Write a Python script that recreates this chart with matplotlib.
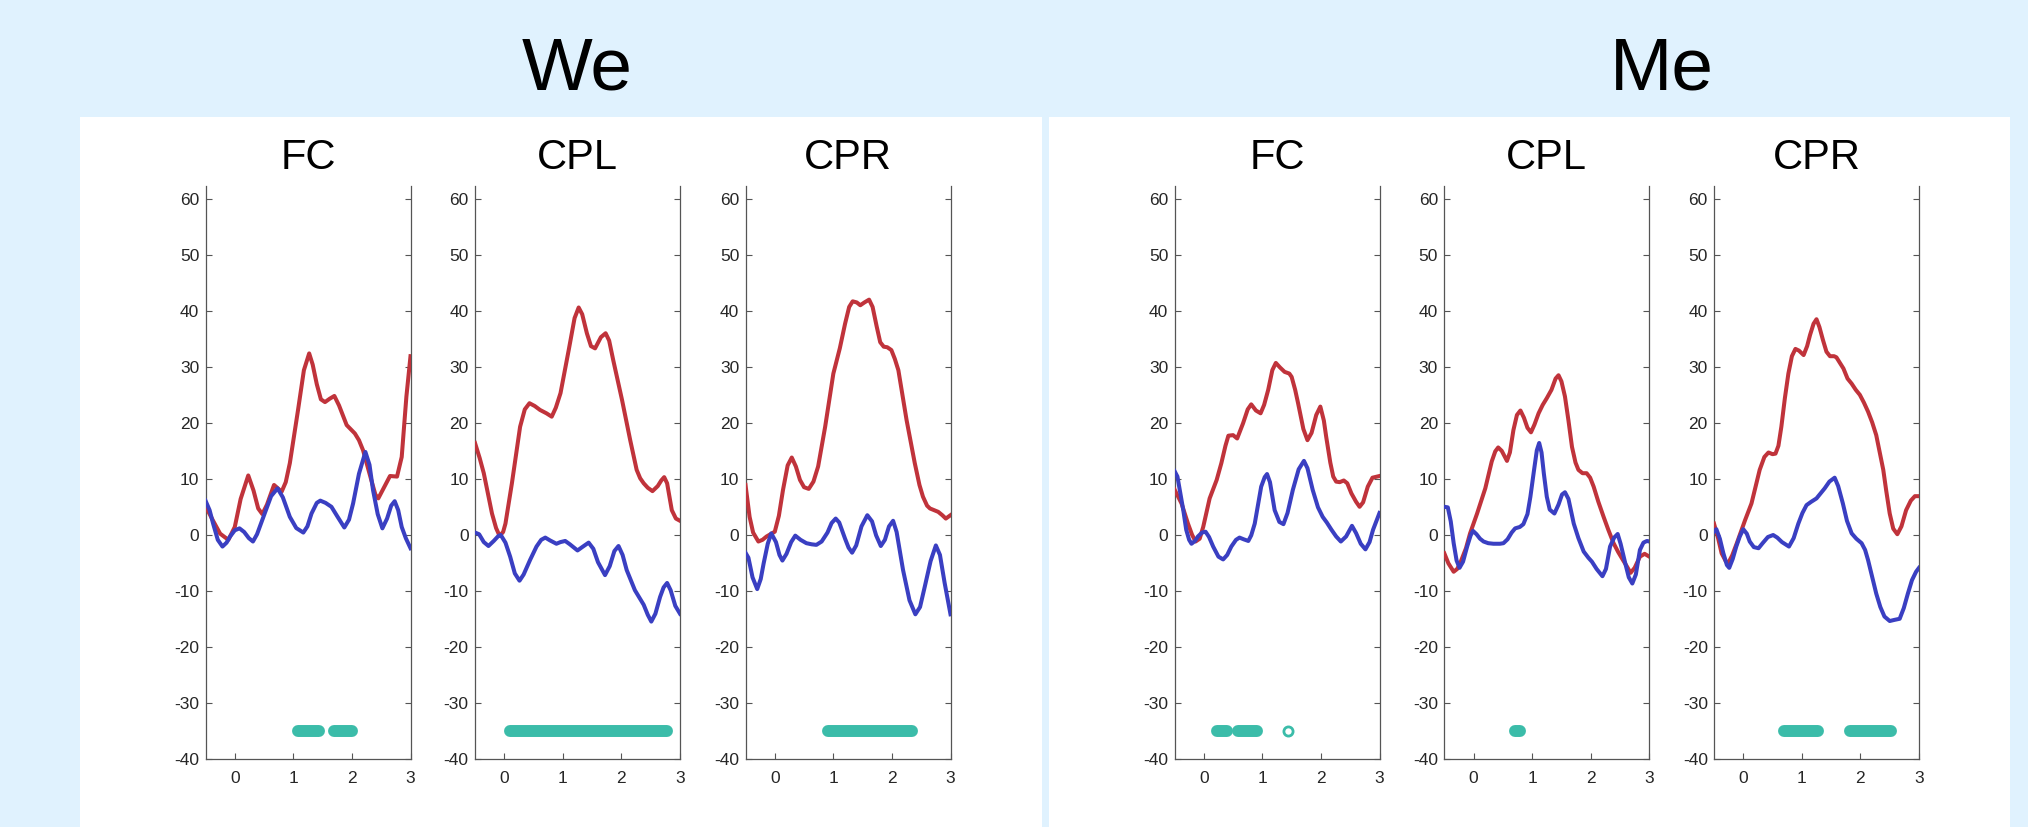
import matplotlib
matplotlib.use('Agg')
import matplotlib.pyplot as plt
from matplotlib.patches import Rectangle
import numpy as np

plt.rcParams['font.family'] = ['Liberation Sans', 'DejaVu Sans']
plt.rcParams['axes.unicode_minus'] = False

# ---- data (time in s, value) ----
group_names = ['We', 'Me']
channel_names = ['FC', 'CPL', 'CPR']
x_ticks = [0, 1, 2, 3]
y_ticks = [-40, -30, -20, -10, 0, 10, 20, 30, 40, 50, 60]
sig_level = -35

we_fc_red = [(-0.5, 5.2), (-0.37, 2.6), (-0.25, 0.3), (-0.11, -0.8), (0.0, 1.5), (0.1, 6.5), (0.23, 10.7),
             (0.32, 8.0), (0.40, 4.8), (0.47, 3.8), (0.55, 5.5), (0.67, 9.0), (0.80, 7.8), (0.87, 9.5),
             (0.94, 12.9), (1.08, 22.4), (1.18, 29.5), (1.27, 32.5), (1.33, 30.5), (1.40, 27.0),
             (1.47, 24.3), (1.54, 23.8), (1.62, 24.4), (1.70, 24.9), (1.78, 23.2), (1.91, 19.7),
             (2.05, 18.2), (2.12, 17.0), (2.19, 15.2), (2.33, 9.9), (2.40, 7.3), (2.45, 6.6),
             (2.55, 8.6), (2.65, 10.6), (2.77, 10.5), (2.85, 14.0), (2.93, 24.8), (3.0, 32.0)]
we_fc_blue = [(-0.5, 6.2), (-0.43, 4.5), (-0.37, 2.1), (-0.29, -0.8), (-0.21, -2.0), (-0.14, -1.3),
              (-0.08, -0.2), (0.0, 0.9), (0.08, 1.25), (0.16, 0.6), (0.24, -0.5), (0.31, -1.1),
              (0.38, 0.2), (0.51, 3.9), (0.62, 7.0), (0.73, 8.4), (0.82, 6.8), (0.94, 3.3), (1.05, 1.3),
              (1.17, 0.5), (1.24, 1.6), (1.31, 3.9), (1.40, 5.8), (1.46, 6.2), (1.55, 5.8), (1.65, 5.1),
              (1.75, 3.4), (1.87, 1.4), (1.95, 2.8), (2.02, 5.7), (2.12, 11.0), (2.23, 14.9),
              (2.30, 12.6), (2.36, 8.1), (2.44, 3.8), (2.52, 1.25), (2.60, 3.0), (2.67, 5.3),
              (2.73, 6.1), (2.79, 4.5), (2.85, 1.5), (2.92, -0.5), (3.0, -2.3)]

we_cpl_red = [(-0.5, 16.5), (-0.42, 13.8), (-0.35, 11.1), (-0.21, 3.9), (-0.14, 1.3), (-0.08, -0.1),
              (-0.02, 0.6), (0.02, 2.1), (0.13, 9.3), (0.27, 19.4), (0.35, 22.5), (0.43, 23.6),
              (0.52, 23.1), (0.61, 22.4), (0.72, 21.8), (0.81, 21.2), (0.88, 22.8), (0.96, 25.4),
              (1.10, 33.1), (1.20, 38.8), (1.27, 40.7), (1.33, 39.5), (1.41, 36.1), (1.48, 33.8),
              (1.55, 33.4), (1.65, 35.4), (1.73, 36.1), (1.79, 34.8), (1.86, 31.3), (2.01, 24.2),
              (2.15, 17.0), (2.26, 11.7), (2.32, 10.2), (2.38, 9.3), (2.45, 8.5), (2.53, 7.9),
              (2.62, 8.8), (2.68, 9.8), (2.73, 10.4), (2.78, 9.3), (2.86, 4.5), (2.93, 3.0), (3.0, 2.6)]
we_cpl_blue = [(-0.5, 0.5), (-0.43, 0.2), (-0.35, -1.2), (-0.27, -1.9), (-0.18, -1.0), (-0.1, -0.1),
               (-0.06, 0.06), (0.02, -1.3), (0.1, -3.8), (0.18, -6.8), (0.26, -8.1), (0.33, -7.0),
               (0.44, -4.4), (0.55, -2.0), (0.63, -0.8), (0.70, -0.4), (0.78, -0.9), (0.89, -1.5),
               (0.96, -1.2), (1.04, -1.0), (1.12, -1.6), (1.25, -2.7), (1.33, -2.1), (1.44, -1.3),
               (1.52, -2.4), (1.60, -4.8), (1.72, -7.1), (1.80, -5.5), (1.88, -2.8), (1.95, -1.9),
               (2.02, -3.5), (2.09, -6.2), (2.23, -9.8), (2.38, -12.4), (2.45, -14.2), (2.51, -15.4),
               (2.58, -14.0), (2.66, -11.0), (2.72, -9.3), (2.78, -8.5), (2.84, -9.8), (2.92, -12.6),
               (3.0, -14.0)]

we_cpr_red = [(-0.5, 9.0), (-0.43, 3.3), (-0.37, 0.5), (-0.28, -1.1), (-0.21, -0.8), (-0.14, -0.2),
              (0.0, 0.65), (0.07, 3.5), (0.14, 8.1), (0.22, 12.5), (0.29, 13.9), (0.36, 12.3),
              (0.43, 9.9), (0.5, 8.6), (0.58, 8.3), (0.66, 9.6), (0.74, 12.3), (0.86, 19.4), (1.0, 28.9),
              (1.11, 33.4), (1.2, 37.8), (1.27, 40.8), (1.33, 41.8), (1.40, 41.6), (1.46, 41.1),
              (1.53, 41.6), (1.61, 42.1), (1.67, 40.8), (1.74, 37.3), (1.80, 34.5), (1.86, 33.7),
              (1.92, 33.6), (1.99, 33.1), (2.05, 31.5), (2.11, 29.5), (2.25, 20.6), (2.39, 12.9),
              (2.47, 9.0), (2.53, 6.9), (2.60, 5.3), (2.65, 4.8), (2.79, 4.2), (2.86, 3.6), (2.92, 3.0),
              (3.0, 3.6)]
we_cpr_blue = [(-0.5, -3.1), (-0.45, -4.0), (-0.38, -7.5), (-0.30, -9.6), (-0.24, -7.8), (-0.19, -5.0),
               (-0.12, -1.5), (-0.06, 0.35), (0.02, -1.2), (0.08, -3.5), (0.13, -4.5), (0.2, -3.3),
               (0.28, -1.2), (0.35, -0.05), (0.44, -0.8), (0.54, -1.4), (0.63, -1.6), (0.71, -1.7),
               (0.80, -1.1), (0.90, 0.5), (0.97, 2.2), (1.04, 3.0), (1.10, 2.3), (1.20, -0.6),
               (1.26, -2.2), (1.32, -3.1), (1.39, -1.8), (1.48, 1.6), (1.58, 3.6), (1.66, 2.5),
               (1.73, 0.0), (1.81, -1.9), (1.88, -0.8), (1.95, 1.6), (2.02, 2.6), (2.08, 0.6),
               (2.19, -6.2), (2.30, -11.6), (2.40, -14.1), (2.48, -12.8), (2.56, -9.2), (2.66, -4.6),
               (2.75, -1.8), (2.82, -3.5), (2.90, -8.5), (3.0, -14.1)]

me_fc_red = [(-0.5, 8.2), (-0.38, 5.7), (-0.27, 2.1), (-0.2, 0.1), (-0.14, -1.1), (-0.07, -0.6),
             (-0.01, 1.5), (0.10, 6.6), (0.22, 9.9), (0.30, 12.9), (0.37, 16.0), (0.42, 17.8),
             (0.50, 17.9), (0.57, 17.3), (0.67, 20.0), (0.75, 22.5), (0.81, 23.4), (0.89, 22.3),
             (0.97, 21.8), (1.03, 23.3), (1.10, 26.0), (1.17, 29.5), (1.23, 30.8), (1.30, 30.0),
             (1.38, 29.2), (1.46, 28.9), (1.50, 28.3), (1.56, 26.0), (1.61, 23.6), (1.70, 19.0),
             (1.77, 17.0), (1.84, 18.3), (1.92, 21.5), (1.99, 23.0), (2.05, 20.5), (2.09, 17.6),
             (2.16, 13.0), (2.21, 10.5), (2.26, 9.6), (2.32, 9.5), (2.39, 9.8), (2.45, 9.3),
             (2.52, 7.5), (2.60, 6.0), (2.66, 5.1), (2.72, 5.9), (2.80, 8.7), (2.88, 10.3), (3.0, 10.6)]
me_fc_blue = [(-0.5, 11.5), (-0.45, 10.5), (-0.41, 8.1), (-0.35, 4.5), (-0.30, 1.0), (-0.25, -0.8),
              (-0.21, -1.5), (-0.15, -1.0), (-0.10, -0.2), (-0.03, 0.5), (0.03, 0.65), (0.09, -0.3),
              (0.16, -2.0), (0.25, -3.8), (0.33, -4.3), (0.40, -3.5), (0.47, -2.0), (0.55, -0.8),
              (0.61, -0.4), (0.68, -0.7), (0.76, -1.0), (0.81, 0.0), (0.87, 2.1), (0.98, 8.7),
              (1.04, 10.4), (1.08, 10.95), (1.13, 9.5), (1.21, 4.5), (1.29, 2.4), (1.36, 2.0),
              (1.43, 4.0), (1.52, 8.1), (1.62, 11.8), (1.71, 13.3), (1.77, 12.0), (1.86, 8.1),
              (1.95, 5.0), (2.03, 3.3), (2.10, 2.3), (2.18, 1.0), (2.26, -0.2), (2.34, -1.1),
              (2.43, -0.2), (2.53, 1.7), (2.60, 0.4), (2.68, -1.5), (2.76, -2.5), (2.83, -1.2),
              (2.89, 1.0), (3.0, 4.0)]

me_cpl_red = [(-0.5, -3.2), (-0.43, -5.0), (-0.34, -6.5), (-0.28, -6.0), (-0.23, -5.0), (-0.13, -2.3),
              (-0.06, 0.35), (0.06, 3.9), (0.2, 8.4), (0.31, 13.2), (0.37, 15.0), (0.42, 15.7),
              (0.48, 15.1), (0.57, 13.3), (0.62, 14.8), (0.68, 18.8), (0.74, 21.5), (0.80, 22.3),
              (0.86, 21.0), (0.92, 19.2), (0.98, 18.4), (1.04, 19.8), (1.11, 21.8), (1.18, 23.3),
              (1.25, 24.5), (1.33, 26.0), (1.40, 28.0), (1.45, 28.6), (1.50, 27.5), (1.56, 24.8),
              (1.62, 20.5), (1.68, 15.8), (1.74, 13.0), (1.79, 11.7), (1.86, 11.1), (1.93, 11.1),
              (1.99, 10.3), (2.05, 8.7), (2.13, 6.0), (2.22, 3.3), (2.30, 1.0), (2.39, -1.4),
              (2.47, -3.0), (2.55, -4.4), (2.62, -5.6), (2.68, -6.7), (2.75, -5.8), (2.84, -3.8),
              (2.92, -3.3), (3.0, -3.8)]
me_cpl_blue = [(-0.5, 5.1), (-0.44, 5.0), (-0.39, 2.5), (-0.34, -1.4), (-0.29, -4.5), (-0.24, -5.8),
               (-0.18, -4.7), (-0.11, -2.0), (-0.05, 0.0), (-0.01, 0.8), (0.05, 0.2), (0.11, -0.6),
               (0.17, -1.1), (0.25, -1.4), (0.34, -1.5), (0.45, -1.5), (0.51, -1.4), (0.58, -0.7),
               (0.65, 0.5), (0.71, 1.25), (0.79, 1.5), (0.85, 2.0), (0.92, 3.8), (0.97, 6.9),
               (1.03, 11.5), (1.08, 15.2), (1.12, 16.5), (1.16, 14.8), (1.20, 11.0), (1.25, 6.9),
               (1.30, 4.6), (1.38, 3.9), (1.45, 5.5), (1.51, 7.3), (1.56, 7.7), (1.62, 6.5),
               (1.71, 2.1), (1.79, -0.5), (1.88, -2.9), (1.96, -4.0), (2.02, -4.7), (2.10, -6.0),
               (2.20, -7.3), (2.26, -6.0), (2.33, -2.0), (2.40, -0.4), (2.46, 0.24), (2.51, -1.5),
               (2.59, -5.0), (2.65, -7.5), (2.71, -8.6), (2.77, -7.0), (2.84, -2.6), (2.90, -1.3),
               (2.96, -1.0), (3.0, -1.1)]

me_cpr_red = [(-0.5, 2.1), (-0.43, -0.5), (-0.37, -3.2), (-0.30, -4.6), (-0.26, -5.0), (-0.19, -3.6),
              (-0.11, -1.4), (0.03, 2.7), (0.14, 5.7), (0.28, 11.7), (0.36, 14.0), (0.43, 14.8),
              (0.50, 14.5), (0.55, 14.6), (0.60, 16.0), (0.65, 19.4), (0.71, 24.5), (0.77, 28.9),
              (0.83, 32.0), (0.89, 33.3), (0.95, 33.0), (1.03, 32.2), (1.09, 33.8), (1.14, 35.8),
              (1.20, 37.8), (1.25, 38.6), (1.30, 37.2), (1.36, 34.9), (1.42, 32.8), (1.48, 32.0),
              (1.55, 32.0), (1.59, 31.8), (1.65, 30.8), (1.71, 29.8), (1.78, 28.0), (1.85, 27.1),
              (1.92, 26.0), (1.99, 25.1), (2.06, 23.7), (2.13, 22.1), (2.20, 20.2), (2.27, 17.9),
              (2.33, 14.8), (2.39, 11.7), (2.44, 8.0), (2.50, 3.9), (2.56, 1.2), (2.63, 0.2),
              (2.70, 1.6), (2.78, 4.5), (2.86, 6.2), (2.93, 7.0), (3.0, 7.0)]
me_cpr_blue = [(-0.5, 0.65), (-0.46, 1.1), (-0.40, -0.6), (-0.34, -3.2), (-0.28, -5.3), (-0.24, -5.8),
               (-0.18, -4.2), (-0.12, -2.0), (-0.06, -0.2), (0.0, 1.1), (0.06, 0.3), (0.11, -1.1),
               (0.18, -2.1), (0.26, -2.3), (0.33, -1.4), (0.42, -0.3), (0.51, 0.06), (0.58, -0.4),
               (0.66, -1.2), (0.78, -2.0), (0.86, -0.5), (0.94, 2.1), (1.01, 4.0), (1.08, 5.4),
               (1.16, 6.0), (1.25, 6.6), (1.32, 7.5), (1.39, 8.4), (1.47, 9.6), (1.56, 10.3),
               (1.62, 8.8), (1.70, 5.7), (1.77, 2.6), (1.85, 0.36), (1.93, -0.6), (2.02, -1.4),
               (2.08, -2.6), (2.13, -4.4), (2.20, -7.4), (2.27, -10.4), (2.34, -12.8), (2.41, -14.5),
               (2.50, -15.3), (2.58, -15.1), (2.67, -14.9), (2.74, -13.0), (2.81, -10.4), (2.88, -8.0),
               (2.95, -6.5), (3.0, -5.8)]

# significant time windows (solid) and isolated significant samples (open)
we_fc_sig = [(1.08, 1.44), (1.69, 2.0)]
we_cpl_sig = [(0.10, 2.78)]
we_cpr_sig = [(0.90, 2.35)]
me_fc_sig = [(0.23, 0.40), (0.59, 0.90)]
me_cpl_sig = [(0.71, 0.79)]
me_cpr_sig = [(0.70, 1.28), (1.82, 2.53)]
we_fc_pts, we_cpl_pts, we_cpr_pts = [], [], []
me_fc_pts = [1.43]
me_cpl_pts = []
me_cpr_pts = []

red = '#c0333b'
blue = '#3a3fc2'
teal = '#3bbca9'
bg = '#e0f2fe'

W, H = 2028, 827
fig = plt.figure(figsize=(W / 100, H / 100), dpi=100, facecolor=bg)

# white panels behind each group
for x0, x1 in [(79.5, 1041.5), (1049, 2009.5)]:
    fig.patches.append(Rectangle((x0 / W, 0), (x1 - x0) / W, 1 - 117 / H,
                                 transform=fig.transFigure, facecolor='white',
                                 edgecolor='none', zorder=-10))

fig.text(577 / W, 1 - 89.3 / H, group_names[0], ha='center', va='baseline', fontsize=54)
fig.text(1662 / W, 1 - 89.3 / H, group_names[1], ha='center', va='baseline', fontsize=54)

panels = [
    (205.5, we_fc_red, we_fc_blue, we_fc_sig, we_fc_pts),
    (475.0, we_cpl_red, we_cpl_blue, we_cpl_sig, we_cpl_pts),
    (745.5, we_cpr_red, we_cpr_blue, we_cpr_sig, we_cpr_pts),
    (1174.5, me_fc_red, me_fc_blue, me_fc_sig, me_fc_pts),
    (1444.3, me_cpl_red, me_cpl_blue, me_cpl_sig, me_cpl_pts),
    (1714.0, me_cpr_red, me_cpr_blue, me_cpr_sig, me_cpr_pts),
]

ax_top, ax_bot, ax_w = 186.0, 759.3, 205.0
for i, (x0, r, b, sig, pts) in enumerate(panels):
    ax = fig.add_axes([x0 / W, 1 - ax_bot / H, ax_w / W, (ax_bot - ax_top) / H])
    ax.set_zorder(1)
    ax.set_facecolor('none')
    r = np.array(r)
    b = np.array(b)
    ax.plot(r[:, 0], r[:, 1], color=red, lw=2.9, solid_joinstyle='round', zorder=3)
    ax.plot(b[:, 0], b[:, 1], color=blue, lw=2.9, solid_joinstyle='round', zorder=4)
    for s, e in sig:
        ax.plot([s, e], [sig_level, sig_level], color=teal, lw=8.6,
                solid_capstyle='round', zorder=5)
    if pts:
        ax.plot(pts, [sig_level] * len(pts), 'o', ms=6.6, mfc='none', mec=teal, mew=2.0,
                zorder=5, clip_on=False)
    ax.set_xlim(-0.5, 3)
    ax.set_ylim(-40, 62.4)
    ax.set_xticks(x_ticks)
    ax.set_yticks(y_ticks)
    ax.set_xticklabels([str(v) for v in x_ticks])
    ax.set_yticklabels([str(v) for v in y_ticks])
    ax.spines['top'].set_visible(False)
    for sp in ['left', 'right', 'bottom']:
        ax.spines[sp].set_color('#555555')
        ax.spines[sp].set_linewidth(0.9)
    ax.tick_params(axis='y', direction='in', length=4, width=0.8, color='#555555',
                   left=True, right=True, labelsize=12.5, labelcolor='#262626', pad=4.5)
    ax.tick_params(axis='x', direction='in', length=4, width=0.8, color='#555555',
                   top=False, labelsize=12.5, labelcolor='#262626', pad=8.5)
    ax.set_title(channel_names[i % 3], fontsize=30, pad=12)

fig.savefig('out.png', dpi=100, facecolor=bg)
